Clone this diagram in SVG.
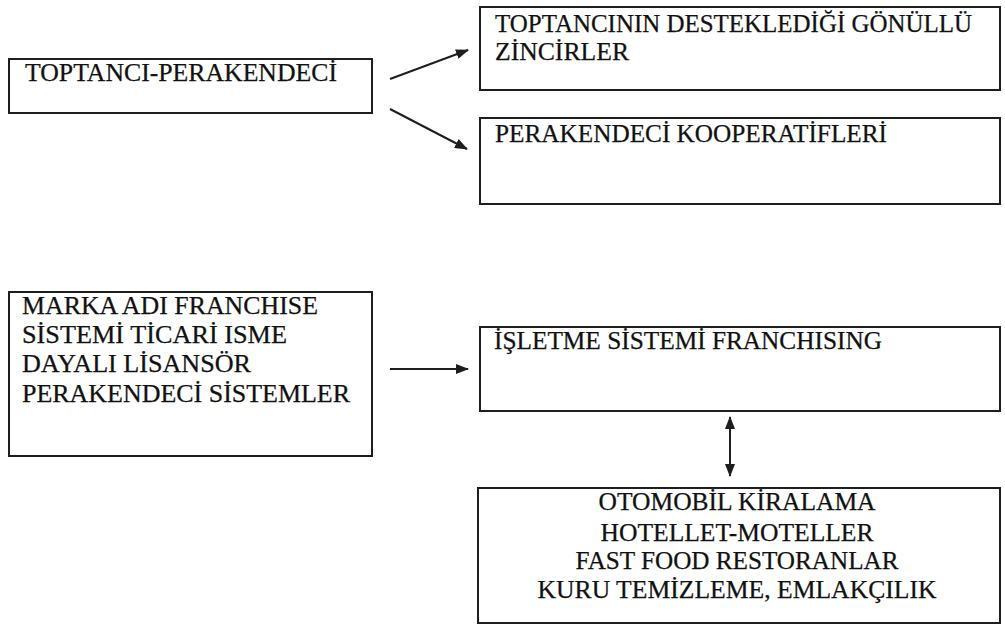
<svg xmlns="http://www.w3.org/2000/svg" width="1005" height="628" viewBox="0 0 1005 628">
<style>
.box{fill:#fff;stroke:#1e1e1e;stroke-width:2}
.t{font-family:"Liberation Serif","Times New Roman",serif;font-size:25px;fill:#111;stroke:#111;stroke-width:0.25}
.c{text-anchor:middle}
.ln{stroke:#1e1e1e;stroke-width:2;fill:none}
</style>
<defs>
<marker id="ah" viewBox="0 0 13 10" refX="12" refY="5" markerWidth="13" markerHeight="10" markerUnits="userSpaceOnUse" orient="auto-start-reverse">
<path d="M0,0 L13,5 L0,10 z" fill="#1e1e1e"/>
</marker>
</defs>
<rect width="1005" height="628" fill="#fff"/>
<g id="n-toptanci">
<rect class="box" x="9" y="59" width="363" height="54"/>
<text class="t" x="25" y="81" textLength="312" lengthAdjust="spacingAndGlyphs">TOPTANCI-PERAKENDECİ</text>
</g>
<g id="n-gonullu">
<rect class="box" x="480" y="7" width="520" height="83"/>
<text class="t" x="495" y="32" textLength="477" lengthAdjust="spacingAndGlyphs">TOPTANCININ DESTEKLEDİĞİ GÖNÜLLÜ</text>
<text class="t" x="495" y="60" textLength="134" lengthAdjust="spacingAndGlyphs">ZİNCİRLER</text>
</g>
<g id="n-koop">
<rect class="box" x="480" y="118" width="520" height="86"/>
<text class="t" x="495" y="142" textLength="392" lengthAdjust="spacingAndGlyphs">PERAKENDECİ KOOPERATİFLERİ</text>
</g>
<g id="n-marka">
<rect class="box" x="9" y="292" width="363" height="164"/>
<text class="t" x="22" y="314" textLength="296" lengthAdjust="spacingAndGlyphs">MARKA ADI FRANCHISE</text>
<text class="t" x="22" y="343" textLength="265" lengthAdjust="spacingAndGlyphs">SİSTEMİ TİCARİ ISME</text>
<text class="t" x="22" y="372" textLength="229" lengthAdjust="spacingAndGlyphs">DAYALI LİSANSÖR</text>
<text class="t" x="22" y="402" textLength="328" lengthAdjust="spacingAndGlyphs">PERAKENDECİ SİSTEMLER</text>
</g>
<g id="n-isletme">
<rect class="box" x="480" y="327" width="520" height="84"/>
<text class="t" x="494" y="349" textLength="388" lengthAdjust="spacingAndGlyphs">İŞLETME SİSTEMİ FRANCHISING</text>
</g>
<g id="n-ornekler">
<rect class="box" x="478" y="488" width="522" height="135"/>
<text class="t c" x="737" y="510" textLength="277" lengthAdjust="spacingAndGlyphs">OTOMOBİL KİRALAMA</text>
<text class="t c" x="737" y="541" textLength="273" lengthAdjust="spacingAndGlyphs">HOTELLET-MOTELLER</text>
<text class="t c" x="737" y="569" textLength="323" lengthAdjust="spacingAndGlyphs">FAST FOOD RESTORANLAR</text>
<text class="t c" x="737" y="598" textLength="399" lengthAdjust="spacingAndGlyphs">KURU TEMİZLEME, EMLAKÇILIK</text>
</g>
<g id="connectors">
<line class="ln" x1="390" y1="79" x2="468" y2="50" marker-end="url(#ah)"/>
<line class="ln" x1="390" y1="109" x2="467" y2="149" marker-end="url(#ah)"/>
<line class="ln" x1="390" y1="369" x2="468" y2="369" marker-end="url(#ah)"/>
<line class="ln" x1="730" y1="417" x2="730" y2="476" marker-start="url(#ah)" marker-end="url(#ah)"/>
</g>
</svg>
